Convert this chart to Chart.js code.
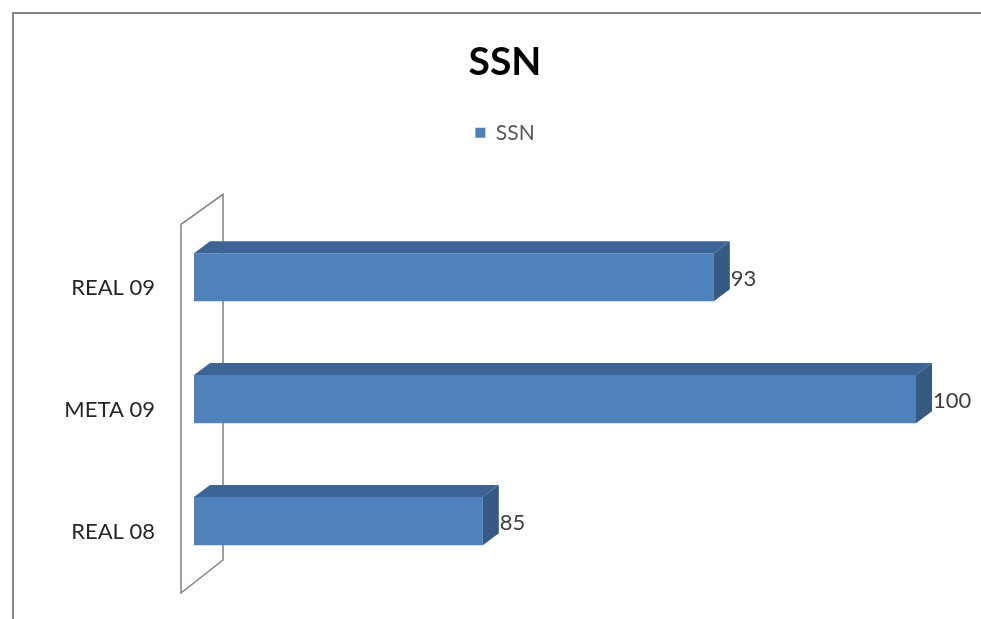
<!DOCTYPE html>
<html>
<head>
<meta charset="utf-8">
<script src="https://cdn.jsdelivr.net/npm/chart.js@4/dist/chart.umd.min.js"></script>
<style>
  body { margin: 0; background: #fff; overflow: hidden; }
  canvas { display: block; }
</style>
</head>
<body>
<canvas id="chart" width="981" height="619"></canvas>
<script>
const categories = ['REAL 09', 'META 09', 'REAL 08'];
const ssnValues = [93, 100, 85];
const seriesName = 'SSN';

const FRONT = '#4F81BD';
const TOP = '#3C6494';
const SIDE = '#375A85';
const DX = 16, DY = -12;

// back wall + outer border, drawn under the bars
const wallPlugin = {
    id: 'wall',
    beforeDraw(chart) {
        const ctx = chart.ctx;
        ctx.save();
        ctx.strokeStyle = '#868686';
        ctx.lineWidth = 2;
        ctx.beginPath();
        ctx.moveTo(13, chart.height + 5);
        ctx.lineTo(13, 13);
        ctx.lineTo(chart.width + 5, 13);
        ctx.stroke();
        ctx.restore();
    },
    beforeDatasetsDraw(chart) {
        const a = chart.chartArea;
        const ctx = chart.ctx;
        ctx.save();
        ctx.strokeStyle = '#808080';
        ctx.lineWidth = 1.5;
        ctx.beginPath();
        ctx.moveTo(a.left - 13, a.top + 8);
        ctx.lineTo(a.left + 29, a.top - 22);
        ctx.lineTo(a.left + 29, a.bottom - 22);
        ctx.lineTo(a.left - 13, a.bottom + 11);
        ctx.closePath();
        ctx.stroke();
        ctx.restore();
    }
};

// top and side faces of each bar, plus the value labels
const bar3dPlugin = {
    id: 'bar3d',
    afterDatasetsDraw(chart) {
        const ctx = chart.ctx;
        const meta = chart.getDatasetMeta(0);
        ctx.save();
        meta.data.forEach((bar, i) => {
            const left = Math.max(bar.base, chart.chartArea.left);
            const top = bar.y - bar.height / 2;
            const bottom = bar.y + bar.height / 2;
            ctx.fillStyle = TOP;
            ctx.beginPath();
            ctx.moveTo(left, top);
            ctx.lineTo(left + DX, top + DY);
            ctx.lineTo(bar.x + DX, top + DY);
            ctx.lineTo(bar.x, top);
            ctx.closePath();
            ctx.fill();
            ctx.fillStyle = SIDE;
            ctx.beginPath();
            ctx.moveTo(bar.x, top);
            ctx.lineTo(bar.x + DX, top + DY);
            ctx.lineTo(bar.x + DX, bottom + DY);
            ctx.lineTo(bar.x, bottom);
            ctx.closePath();
            ctx.fill();

            ctx.fillStyle = '#404040';
            ctx.font = '22px Lato';
            ctx.textAlign = 'left';
            ctx.textBaseline = 'middle';
            ctx.fillText(String(ssnValues[i]), bar.x + DX + 1, bar.y + 2);
        });
        ctx.restore();
    }
};

new Chart(document.getElementById('chart'), {
    type: 'bar',
    data: {
        labels: categories,
        datasets: [{
            label: seriesName,
            data: ssnValues,
            backgroundColor: FRONT,
            borderWidth: 0,
            categoryPercentage: 1,
            barPercentage: 0.395,
            xAxisID: 'x',
            yAxisID: 'y'
        }]
    },
    options: {
        indexAxis: 'y',
        responsive: false,
        animation: false,
        layout: { padding: { top: 0, left: 29, right: 0, bottom: 37 } },
        scales: {
            x: {
                position: 'top',
                min: 75,
                max: 100,
                ticks: { display: false },
                grid: { display: false },
                border: { display: false },
                afterFit(scale) { scale.height = 63; }
            },
            y: {
                grid: { display: false, drawTicks: true, tickLength: 39 },
                border: { display: false },
                ticks: { padding: 0, labelOffset: 11, color: '#262626', font: { family: 'Lato', size: 22 } },
                afterFit(scale) { scale.width = 165; }
            },
            yRight: {
                type: 'category',
                position: 'right',
                ticks: { display: false },
                grid: { display: false },
                border: { display: false },
                afterFit(scale) { scale.width = 65; }
            }
        },
        plugins: {
            title: {
                display: true,
                text: 'SSN',
                color: '#000',
                font: { family: 'Lato', size: 39, weight: 'bold' },
                padding: { top: 39, bottom: 28 }
            },
            legend: {
                display: true,
                labels: {
                    boxWidth: 10,
                    boxHeight: 10,
                    padding: 8.5,
                    color: '#595959',
                    font: { family: 'Lato', size: 21 }
                }
            },
            tooltip: { enabled: false }
        }
    },
    plugins: [wallPlugin, bar3dPlugin]
});
</script>
</body>
</html>
